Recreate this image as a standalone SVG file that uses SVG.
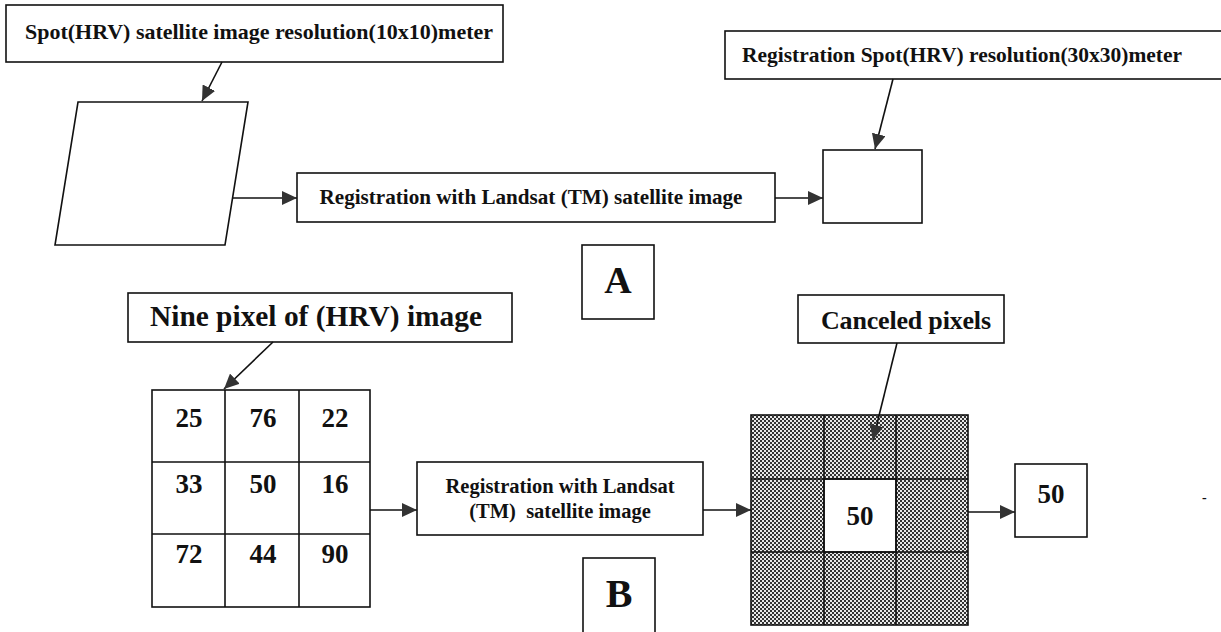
<svg xmlns="http://www.w3.org/2000/svg" width="1221" height="632" viewBox="0 0 1221 632">
<style>
.box{fill:#fff;stroke:#111;stroke-width:1.6}
.t{font-family:"Liberation Serif","Times New Roman",serif;font-weight:bold;fill:#111}
.c{text-anchor:middle}
.edge{stroke:#111;stroke-width:1.6;fill:none;marker-end:url(#ah)}
.hatch{fill:url(#chk);stroke:#111;stroke-width:1.6}
</style>
<defs>
<marker id="ah" markerUnits="userSpaceOnUse" markerWidth="16" markerHeight="14" refX="15" refY="7" orient="auto">
<path d="M0,0 L15,7 L0,14 z" fill="#333"/>
</marker>
<pattern id="chk" patternUnits="userSpaceOnUse" width="4" height="4">
<rect width="4" height="4" fill="#e8e8e8"/>
<rect width="2" height="2" fill="#333"/>
<rect x="2" y="2" width="2" height="2" fill="#333"/>
</pattern>
</defs>
<rect width="1221" height="632" fill="#fff"/>

<g id="spot-label">
<rect class="box" x="6" y="5" width="497" height="57"/>
<text class="t" x="25" y="39" font-size="22" textLength="468" lengthAdjust="spacingAndGlyphs">Spot(HRV) satellite image resolution(10x10)meter</text>
</g>
<g id="spot-image">
<polygon class="box" points="78,102 248,102 225,245 55,245"/>
</g>
<g id="registration-a">
<rect class="box" x="297" y="173" width="478" height="49"/>
<text class="t c" x="531" y="204" font-size="21" textLength="423" lengthAdjust="spacingAndGlyphs">Registration with Landsat (TM) satellite image</text>
</g>
<g id="result-a">
<rect class="box" x="823" y="150" width="99" height="73"/>
</g>
<g id="registration-label">
<rect class="box" x="725" y="31" width="500" height="48"/>
<text class="t" x="742" y="62" font-size="21.5" textLength="440" lengthAdjust="spacingAndGlyphs">Registration Spot(HRV) resolution(30x30)meter</text>
</g>
<g id="label-a">
<rect class="box" x="582" y="245" width="72" height="74"/>
<text class="t c" x="618" y="293" font-size="38">A</text>
</g>

<g id="nine-label">
<rect class="box" x="128" y="293" width="384" height="49"/>
<text class="t" x="150" y="326" font-size="29" textLength="332" lengthAdjust="spacingAndGlyphs">Nine pixel of (HRV) image</text>
</g>
<g id="grid-hrv">
<rect class="box" x="152" y="390" width="218" height="217"/>
<path d="M225,390 V607 M299,390 V607 M152,462 H370 M152,534 H370" stroke="#111" stroke-width="1.6" fill="none"/>
<g class="t c" font-size="27">
<text x="189" y="427">25</text><text x="263" y="427">76</text><text x="335" y="427">22</text>
<text x="189" y="493">33</text><text x="263" y="493">50</text><text x="335" y="493">16</text>
<text x="189" y="563">72</text><text x="263" y="563">44</text><text x="335" y="563">90</text>
</g>
</g>
<g id="registration-b">
<rect class="box" x="417" y="462" width="286" height="73"/>
<text class="t c" x="560" y="493" font-size="20.5">Registration with Landsat</text>
<text class="t c" x="560" y="518" font-size="20.5" xml:space="preserve">(TM)  satellite image</text>
</g>
<g id="label-b">
<rect class="box" x="583" y="558" width="72" height="80"/>
<text class="t c" x="619" y="607" font-size="40">B</text>
</g>
<g id="canceled-label">
<rect class="box" x="798" y="295" width="206" height="48"/>
<text class="t" x="821" y="329" font-size="26" textLength="170" lengthAdjust="spacing">Canceled pixels</text>
</g>
<g id="grid-canceled">
<rect class="hatch" x="751" y="415" width="217" height="210"/>
<rect x="824" y="479" width="72" height="73" fill="#fff" stroke="#111" stroke-width="1.6"/>
<path d="M824,415 V625 M896,415 V625 M751,479 H968 M751,552 H968" stroke="#111" stroke-width="1.6" fill="none"/>
<text class="t c" x="860" y="525" font-size="27">50</text>
</g>
<g id="result-b">
<rect class="box" x="1015" y="464" width="72" height="73"/>
<text class="t c" x="1051" y="503" font-size="27">50</text>
</g>
<g id="mark">
<text class="t" x="1202" y="502" font-size="14">-</text>
</g>

<g id="connectors">
<line class="edge" x1="222" y1="62" x2="202" y2="101"/>
<line class="edge" x1="893" y1="79" x2="875" y2="149"/>
<line class="edge" x1="233" y1="198" x2="297" y2="198"/>
<line class="edge" x1="775" y1="198" x2="823" y2="198"/>
<line class="edge" x1="273" y1="342" x2="224" y2="389"/>
<line class="edge" x1="370" y1="510" x2="417" y2="510"/>
<line class="edge" x1="703" y1="510" x2="751" y2="510"/>
<line class="edge" x1="968" y1="512" x2="1015" y2="512"/>
<line class="edge" x1="897" y1="343" x2="873" y2="440"/>
</g>
</svg>
